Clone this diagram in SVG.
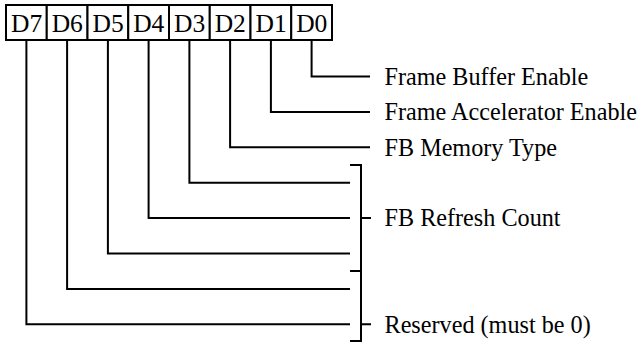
<svg xmlns="http://www.w3.org/2000/svg" width="643" height="343" viewBox="0 0 643 343">
<style>
.box{fill:#fff;stroke:#000;stroke-width:2}
.bt{font-family:'Liberation Serif','Times New Roman','DejaVu Serif',serif;font-size:25.5px;fill:#000;text-anchor:middle}
.lb{font-family:'Liberation Serif','Times New Roman','DejaVu Serif',serif;font-size:24.2px;fill:#000}
.ln{fill:none;stroke:#000;stroke-width:2}
</style>
<rect width="643" height="343" fill="#fff"/>
<g id="register">
<g id="D7"><rect class="box" x="6" y="5" width="40.75" height="35"/><text class="bt" x="26.6" y="32">D7</text></g>
<g id="D6"><rect class="box" x="46.75" y="5" width="40.75" height="35"/><text class="bt" x="67.3" y="32">D6</text></g>
<g id="D5"><rect class="box" x="87.5" y="5" width="40.75" height="35"/><text class="bt" x="108.1" y="32">D5</text></g>
<g id="D4"><rect class="box" x="128.25" y="5" width="40.75" height="35"/><text class="bt" x="148.8" y="32">D4</text></g>
<g id="D3"><rect class="box" x="169" y="5" width="40.75" height="35"/><text class="bt" x="189.6" y="32">D3</text></g>
<g id="D2"><rect class="box" x="209.75" y="5" width="40.75" height="35"/><text class="bt" x="230.3" y="32">D2</text></g>
<g id="D1"><rect class="box" x="250.5" y="5" width="40.75" height="35"/><text class="bt" x="271.1" y="32">D1</text></g>
<g id="D0"><rect class="box" x="291.25" y="5" width="40.75" height="35"/><text class="bt" x="311.8" y="32">D0</text></g>
</g>
<g id="connectors">
<path class="ln" d="M311.6 40V76.5H370"/>
<path class="ln" d="M270.9 40V111.9H370"/>
<path class="ln" d="M230.1 40V147.3H370"/>
<path class="ln" d="M189.4 40V182.7H350"/>
<path class="ln" d="M148.6 40V218.1H350"/>
<path class="ln" d="M107.9 40V253.5H350"/>
<path class="ln" d="M67.1 40V288.9H350"/>
<path class="ln" d="M26.4 40V324.3H350"/>
<path class="ln" d="M350 165H361V271H350M361 218.1H371"/>
<path class="ln" d="M361 271V341H350M361 324.3H371"/>
</g>
<g id="labels">
<text class="lb" x="384.5" y="84.8">Frame Buffer Enable</text>
<text class="lb" x="384.5" y="120.2">Frame Accelerator Enable</text>
<text class="lb" x="384.5" y="155.6">FB Memory Type</text>
<text class="lb" x="384.5" y="226.4">FB Refresh Count</text>
<text class="lb" x="384.5" y="332.6">Reserved (must be 0)</text>
</g>
</svg>
